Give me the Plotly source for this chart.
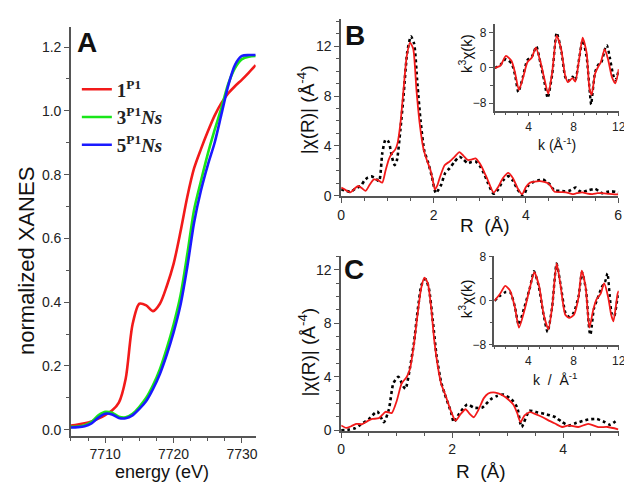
import plotly.graph_objects as go

# ---------------- Panel A: XANES ----------------
energy = [7705, 7706, 7707, 7708, 7709, 7710, 7711, 7712, 7713, 7714, 7715, 7716, 7717, 7718,
          7719, 7720, 7721, 7722, 7723, 7724, 7725, 7726, 7727, 7728, 7729, 7730, 7731, 7732]
xanes_1 = [0.013, 0.016, 0.020, 0.026, 0.035, 0.046, 0.060, 0.085, 0.160, 0.330, 0.395, 0.390, 0.372, 0.395,
           0.450, 0.520, 0.620, 0.730, 0.820, 0.880, 0.935, 0.985, 1.025, 1.055, 1.078, 1.098, 1.120, 1.143]
xanes_3 = [0.009, 0.010, 0.014, 0.025, 0.045, 0.056, 0.053, 0.041, 0.039, 0.050, 0.072, 0.100, 0.140, 0.190,
           0.255, 0.330, 0.420, 0.550, 0.690, 0.780, 0.865, 0.940, 1.010, 1.085, 1.135, 1.162, 1.170, 1.172]
xanes_5 = [0.007, 0.008, 0.011, 0.020, 0.038, 0.050, 0.048, 0.037, 0.036, 0.045, 0.065, 0.090, 0.128, 0.175,
           0.235, 0.305, 0.390, 0.510, 0.650, 0.750, 0.830, 0.900, 0.990, 1.080, 1.145, 1.172, 1.175, 1.175]
series_names = ["<b>1<sup>P1</sup></b>", "<b>3<sup>P1</sup><i>Ns</i></b>", "<b>5<sup>P1</sup><i>Ns</i></b>"]
a_xticks = [7710, 7720, 7730]
a_yticks = [0.0, 0.2, 0.4, 0.6, 0.8, 1.0, 1.2]

# ---------------- Panel B: FT magnitude ----------------
b_r_fit = [0.0, 0.1, 0.2, 0.3, 0.37, 0.45, 0.53, 0.62, 0.71, 0.8, 0.89, 0.96, 1.03, 1.1, 1.17, 1.22, 1.28,
           1.35, 1.42, 1.49, 1.56, 1.63, 1.7, 1.78, 1.86, 1.93, 1.98, 2.03, 2.08, 2.14, 2.24, 2.35, 2.45,
           2.56, 2.65, 2.74, 2.82, 2.91, 3.0, 3.09, 3.18, 3.3, 3.4, 3.5, 3.62, 3.72, 3.82, 3.92, 4.0, 4.09,
           4.3, 4.48, 4.55, 4.62, 4.75, 4.87, 5.01, 5.1, 5.22, 5.33, 5.44, 5.55, 5.65, 5.8, 6.0]
b_fit = [0.65, 0.45, 0.27, 0.6, 0.78, 0.6, 0.39, 0.9, 1.31, 1.25, 1.05, 2.0, 2.9, 3.4, 3.7, 4.2, 5.7,
         8.5, 11.2, 12.3, 11.8, 8.5, 5.8, 3.8, 2.8, 2.1, 1.3, 0.5, 0.8, 1.5, 2.45, 2.75, 3.1,
         3.5, 3.2, 2.87, 2.9, 3.0, 2.6, 1.96, 1.2, 0.25, 0.7, 1.4, 1.83, 1.4, 0.6, 0.12, 0.7, 1.05,
         1.17, 1.0, 0.7, 0.31, 0.28, 0.27, 0.13, 0.2, 0.27, 0.17, 0.13, 0.2, 0.2, 0.15, 0.1]
b_r_exp = [0.0, 0.1, 0.2, 0.3, 0.43, 0.5, 0.57, 0.65, 0.72, 0.82, 0.89, 0.96, 1.03, 1.1, 1.16, 1.21, 1.28,
           1.35, 1.43, 1.51, 1.58, 1.65, 1.72, 1.8, 1.88, 1.96, 2.05, 2.11, 2.17, 2.25, 2.35, 2.45, 2.56,
           2.65, 2.74, 2.82, 2.91, 3.0, 3.09, 3.18, 3.3, 3.4, 3.5, 3.62, 3.72, 3.82, 3.94, 4.05, 4.16,
           4.3, 4.37, 4.45, 4.52, 4.62, 4.73, 4.85, 4.94, 5.08, 5.15, 5.22, 5.37, 5.5, 5.6, 5.65, 5.75,
           5.86, 5.95, 6.0]
b_exp = [0.5, 0.4, 0.3, 0.55, 0.8, 1.2, 1.44, 1.55, 1.45, 1.17, 3.4, 4.5, 4.3, 3.1, 2.45, 2.9, 5.2,
         8.0, 11.5, 12.8, 12.2, 9.0, 6.0, 3.6, 2.7, 1.6, 0.2, 0.5, 0.92, 1.8, 2.22, 2.7, 3.13,
         2.9, 2.61, 2.7, 2.74, 2.4, 1.8, 1.0, 0.15, 0.5, 1.2, 1.57, 1.2, 0.5, 0.0, 0.8, 1.1,
         1.25, 1.3, 1.1, 0.9, 0.4, 0.4, 0.35, 0.4, 0.65, 0.4, 0.3, 0.45, 0.55, 0.3, 0.2, 0.3,
         0.35, 0.3, 0.27]

# ---------------- Panel B inset: k-space ----------------
bk_fit_k = [1.0, 1.5, 2.0, 2.5, 2.8, 3.15, 3.5, 3.9, 4.3, 4.65, 5.05, 5.4, 5.75, 6.1, 6.5, 6.9, 7.25,
            7.5, 7.9, 8.15, 8.45, 8.8, 9.15, 9.4, 9.6, 9.9, 10.2, 10.4, 10.75, 11.05, 11.4, 11.7, 12.0]
bk_fit = [0.0, 0.5, 2.75, 1.6, -1.0, -5.0, -2.4, 1.3, 2.4, 4.6, 1.5, -2.4, -5.9, -1.0, 7.4, 4.2, -1.7,
          -3.2, -2.3, -3.1, 1.3, 6.9, 3.5, -4.6, -6.1, -1.3, 0.4, 1.2, 4.3, 2.0, -2.1, -3.5, -0.3]
bk_exp_k = [1.0, 1.5, 2.0, 2.5, 2.8, 3.1, 3.5, 3.9, 4.3, 4.7, 5.05, 5.4, 5.7, 6.1, 6.5, 6.9, 7.25,
            7.5, 7.9, 8.15, 8.45, 8.8, 9.15, 9.45, 9.55, 9.9, 10.2, 10.45, 10.8, 10.95, 11.2, 11.5,
            11.7, 12.0]
bk_exp = [0.0, 0.7, 2.0, 1.0, -1.5, -5.5, -2.0, 1.8, 2.6, 4.9, 1.2, -3.0, -6.8, -1.5, 8.0, 4.0, -2.0,
          -3.0, -2.0, -2.8, 1.5, 6.3, 2.5, -6.0, -8.3, -1.0, 0.8, 1.2, 4.5, 5.2, 2.5, -1.5,
          -2.8, -0.5]

# ---------------- Panel C: FT magnitude ----------------
c_r_fit = [0.0, 0.09, 0.18, 0.27, 0.38, 0.48, 0.56, 0.68, 0.8, 0.91, 1.0, 1.09, 1.18, 1.24, 1.31, 1.38,
           1.44, 1.5, 1.56, 1.62, 1.68, 1.74, 1.8, 1.88, 1.97, 2.06, 2.15, 2.24, 2.32, 2.39, 2.47, 2.57,
           2.65, 2.74, 2.83, 2.92, 3.01, 3.1, 3.17, 3.23, 3.3, 3.4, 3.5, 3.63, 3.75, 3.86, 3.98, 4.1,
           4.27, 4.45, 4.63, 4.8, 4.99]
c_fit = [0.36, 0.17, 0.3, 0.48, 0.45, 0.7, 0.84, 0.9, 1.38, 1.28, 2.18, 3.5, 3.98, 4.6, 6.4, 8.8,
         10.6, 11.4, 11.0, 9.2, 6.6, 4.8, 3.5, 2.6, 1.5, 0.72, 1.2, 1.57, 1.2, 0.97, 1.5, 2.4,
         2.75, 2.83, 2.75, 2.58, 2.3, 1.93, 1.3, 0.6, 1.1, 1.35, 1.2, 0.97, 0.7, 0.48, 0.24, 0.36,
         0.24, 0.48, 0.24, 0.24, 0.07]
c_r_exp = [0.0, 0.15, 0.25, 0.35, 0.5, 0.65, 0.77, 0.86, 0.94, 1.03, 1.12, 1.16, 1.24, 1.31, 1.38, 1.45,
           1.52, 1.58, 1.65, 1.72, 1.8, 1.86, 1.98, 2.03, 2.12, 2.27, 2.39, 2.54, 2.69, 2.8, 2.92, 3.07,
           3.17, 3.25, 3.39, 3.54, 3.69, 3.86, 3.98, 4.1, 4.24, 4.45, 4.6, 4.75, 4.84, 4.99]
c_exp = [0.0, 0.05, 0.15, 0.41, 0.84, 1.4, 0.6, 1.57, 3.5, 4.0, 3.27, 3.1, 4.7, 6.5, 9.0, 10.9,
         11.3, 10.6, 8.2, 5.5, 3.6, 2.78, 1.33, 0.6, 1.2, 1.93, 1.69, 1.69, 2.3, 2.55, 2.66, 2.3,
         1.7, 0.24, 1.45, 1.33, 1.2, 0.97, 0.6, 0.36, 0.55, 0.8, 0.84, 0.6, 0.41, 0.84]

# ---------------- Panel C inset: k-space ----------------
ck_fit_k = [1.0, 1.5, 1.95, 2.37, 2.8, 3.17, 3.66, 4.15, 4.53, 4.97, 5.33, 5.77, 6.11, 6.5, 6.83, 7.27,
            7.62, 8.04, 8.45, 8.72, 9.07, 9.4, 9.74, 10.03, 10.4, 10.71, 11.06, 11.33, 11.53, 11.9, 12.0]
ck_fit = [0.0, 1.3, 2.7, 1.9, -1.1, -4.9, -1.7, 2.5, 5.2, 2.5, -2.25, -5.2, -1.07, 6.8, 3.1, -2.55,
          -3.1, -2.55, 0.7, 5.5, 2.5, -4.9, -1.66, 0.25, 1.3, 3.2, 0.7, -2.55, -3.75, 1.3, 1.8]
ck_exp_k = [1.0, 1.5, 2.0, 2.4, 2.8, 3.15, 3.6, 4.15, 4.5, 4.9, 5.3, 5.7, 6.1, 6.5, 6.85, 7.3, 7.6,
            8.0, 8.45, 8.75, 9.1, 9.4, 9.5, 9.8, 10.1, 10.5, 10.8, 11.0, 11.2, 11.4, 11.6, 11.9, 12.0]
ck_exp = [0.0, 0.9, 1.6, 1.5, -1.0, -4.4, -1.5, 2.5, 5.4, 2.8, -2.0, -5.7, -1.2, 6.8, 3.0, -2.3, -2.9,
          -2.2, 0.9, 5.2, 2.0, -5.5, -6.2, -1.5, 0.3, 2.5, 3.5, 5.0, 1.0, -2.5, -2.8, 0.5, 1.0]

# ---------------- styles ----------------
W, H = 632, 488
RED = "#f21a1a"
GREEN = "#19e619"
BLUE = "#1a1aff"
AX = "#555555"
SANS = "Liberation Sans, Arial, sans-serif"
SERIF = "Liberation Serif, Times New Roman, serif"


def px(x0, x1):
    return [max(0, x0 / W), min(1, x1 / W)]


def py(y_top, y_bot):
    return [max(0, 1 - y_bot / H), min(1, 1 - y_top / H)]


fig = go.Figure()

for vals, col, name in zip([xanes_1, xanes_3, xanes_5], [RED, GREEN, BLUE], series_names):
    fig.add_trace(go.Scatter(x=energy, y=vals, mode="lines", name=name,
                             line=dict(color=col, width=2.6, shape="spline", smoothing=0.8),
                             xaxis="x", yaxis="y"))


def pair(xe, ye, xf, yf, xa, ya, wd):
    fig.add_trace(go.Scatter(x=xe, y=ye, mode="lines", showlegend=False,
                             line=dict(color="black", width=wd, dash="dot", shape="spline", smoothing=0.6),
                             xaxis=xa, yaxis=ya))
    fig.add_trace(go.Scatter(x=xf, y=yf, mode="lines", showlegend=False,
                             line=dict(color=RED, width=1.8, shape="spline", smoothing=0.6),
                             xaxis=xa, yaxis=ya))


pair(b_r_exp, b_exp, b_r_fit, b_fit, "x2", "y2", 2.6)
pair(bk_exp_k, bk_exp, bk_fit_k, bk_fit, "x3", "y3", 2.4)
pair(c_r_exp, c_exp, c_r_fit, c_fit, "x4", "y4", 2.6)
pair(ck_exp_k, ck_exp, ck_fit_k, ck_fit, "x5", "y5", 2.4)


def axis(domain, rng, anchor, tickvals=None, dtick=None, tick0=None, minor_dtick=None, minor0=None,
         fmt=None, size=14, ticklen=5):
    d = dict(domain=domain, range=rng, anchor=anchor, showgrid=False, zeroline=False,
             showline=True, linecolor=AX, linewidth=1.5, mirror=False,
             ticks="outside", ticklen=ticklen, tickwidth=1.3, tickcolor=AX,
             tickfont=dict(family=SANS, size=size, color="#222222"))
    if tickvals is not None:
        d["tickvals"] = tickvals
        d["ticktext"] = [fmt.format(v) if fmt else str(v) for v in tickvals]
    else:
        d["dtick"] = dtick
        d["tick0"] = tick0
    if minor_dtick is not None:
        d["minor"] = dict(ticks="outside", dtick=minor_dtick, tick0=minor0, ticklen=3,
                          tickwidth=1.1, tickcolor=AX, showgrid=False)
    return d


layout = dict(
    width=W, height=H, autosize=False,
    margin=dict(l=0, r=0, t=0, b=0),
    paper_bgcolor="white", plot_bgcolor="rgba(0,0,0,0)",
    showlegend=True,
    legend=dict(x=66 / W, y=1 - 58 / H, xanchor="left", yanchor="top",
                bgcolor="rgba(0,0,0,0)", borderwidth=0,
                font=dict(family=SERIF, size=19, color="#222222"),
                tracegroupgap=0, itemwidth=30),
)

layout["xaxis"] = axis(px(60, 248), [7705, 7732], "y", tickvals=a_xticks, minor_dtick=2.5, minor0=7705)
layout["yaxis"] = axis(py(13, 433.3), [-0.019, 1.264], "x", tickvals=a_yticks, fmt="{:.1f}",
                       minor_dtick=0.1, minor0=0)
layout["xaxis2"] = axis(px(335, 617), [0, 6], "y2", dtick=2, tick0=0, minor_dtick=0.5, minor0=0)
layout["yaxis2"] = axis(py(5, 187.3), [-0.05, 14.2], "x2", dtick=4, tick0=0, minor_dtick=1, minor0=0)
layout["xaxis3"] = axis(px(491.2, 617.5), [1, 12], "y3", dtick=4, tick0=0, minor_dtick=1, minor0=0,
                        size=12, ticklen=4)
layout["yaxis3"] = axis(py(10, 99.3), [-9.7, 10.05], "x3", dtick=8, tick0=0, minor_dtick=4, minor0=0,
                        size=12, ticklen=4)
layout["xaxis4"] = axis(px(335, 617.5), [0, 5], "y4", dtick=2, tick0=0, minor_dtick=0.5, minor0=0)
layout["yaxis4"] = axis(py(249, 428.3), [-0.05, 13.0], "x4", dtick=4, tick0=0, minor_dtick=1, minor0=0)
layout["xaxis5"] = axis(px(491, 617.5), [1, 12], "y5", dtick=4, tick0=0, minor_dtick=1, minor0=0,
                        size=12, ticklen=4)
layout["yaxis5"] = axis(py(249, 339.7), [-8, 8.1], "x5", dtick=8, tick0=0, minor_dtick=4, minor0=0,
                        size=12, ticklen=4)


def ann(text, x, y, size=16, angle=0, bold=False):
    return dict(text=("<b>%s</b>" % text) if bold else text, x=x / W, y=1 - y / H,
                xref="paper", yref="paper", showarrow=False, textangle=angle,
                xanchor="center", yanchor="middle", borderpad=0,
                font=dict(family=SANS, size=size, color="#111111"))


layout["annotations"] = [
    ann("A", 76, 29, size=28, bold=True),
    ann("B", 349, 22, size=28, bold=True),
    ann("C", 348, 263, size=28, bold=True),
    ann("normalized XANES", 14, 254, size=22, angle=-90),
    ann("energy (eV)", 153, 471, size=18),
    ann("R  (Å)", 481, 217, size=19),
    ann("|χ(R)| (Å<sup>-4</sup>)", 300, 98, size=19, angle=-90),
    ann("k (Å<sup>-1</sup>)", 555, 134, size=14),
    ann("k<sup>3</sup>χ(k)", 462, 40, size=15, angle=-90),
    ann("R  (Å)", 477, 470, size=19),
    ann("|χ(R)| (Å<sup>-4</sup>)", 300, 347, size=19, angle=-90),
    ann("k  /  Å<sup>-1</sup>", 553, 375, size=14),
    ann("k<sup>3</sup>χ(k)", 461, 292, size=15, angle=-90),
]

fig.update_layout(**layout)
fig.write_html("out.html")
